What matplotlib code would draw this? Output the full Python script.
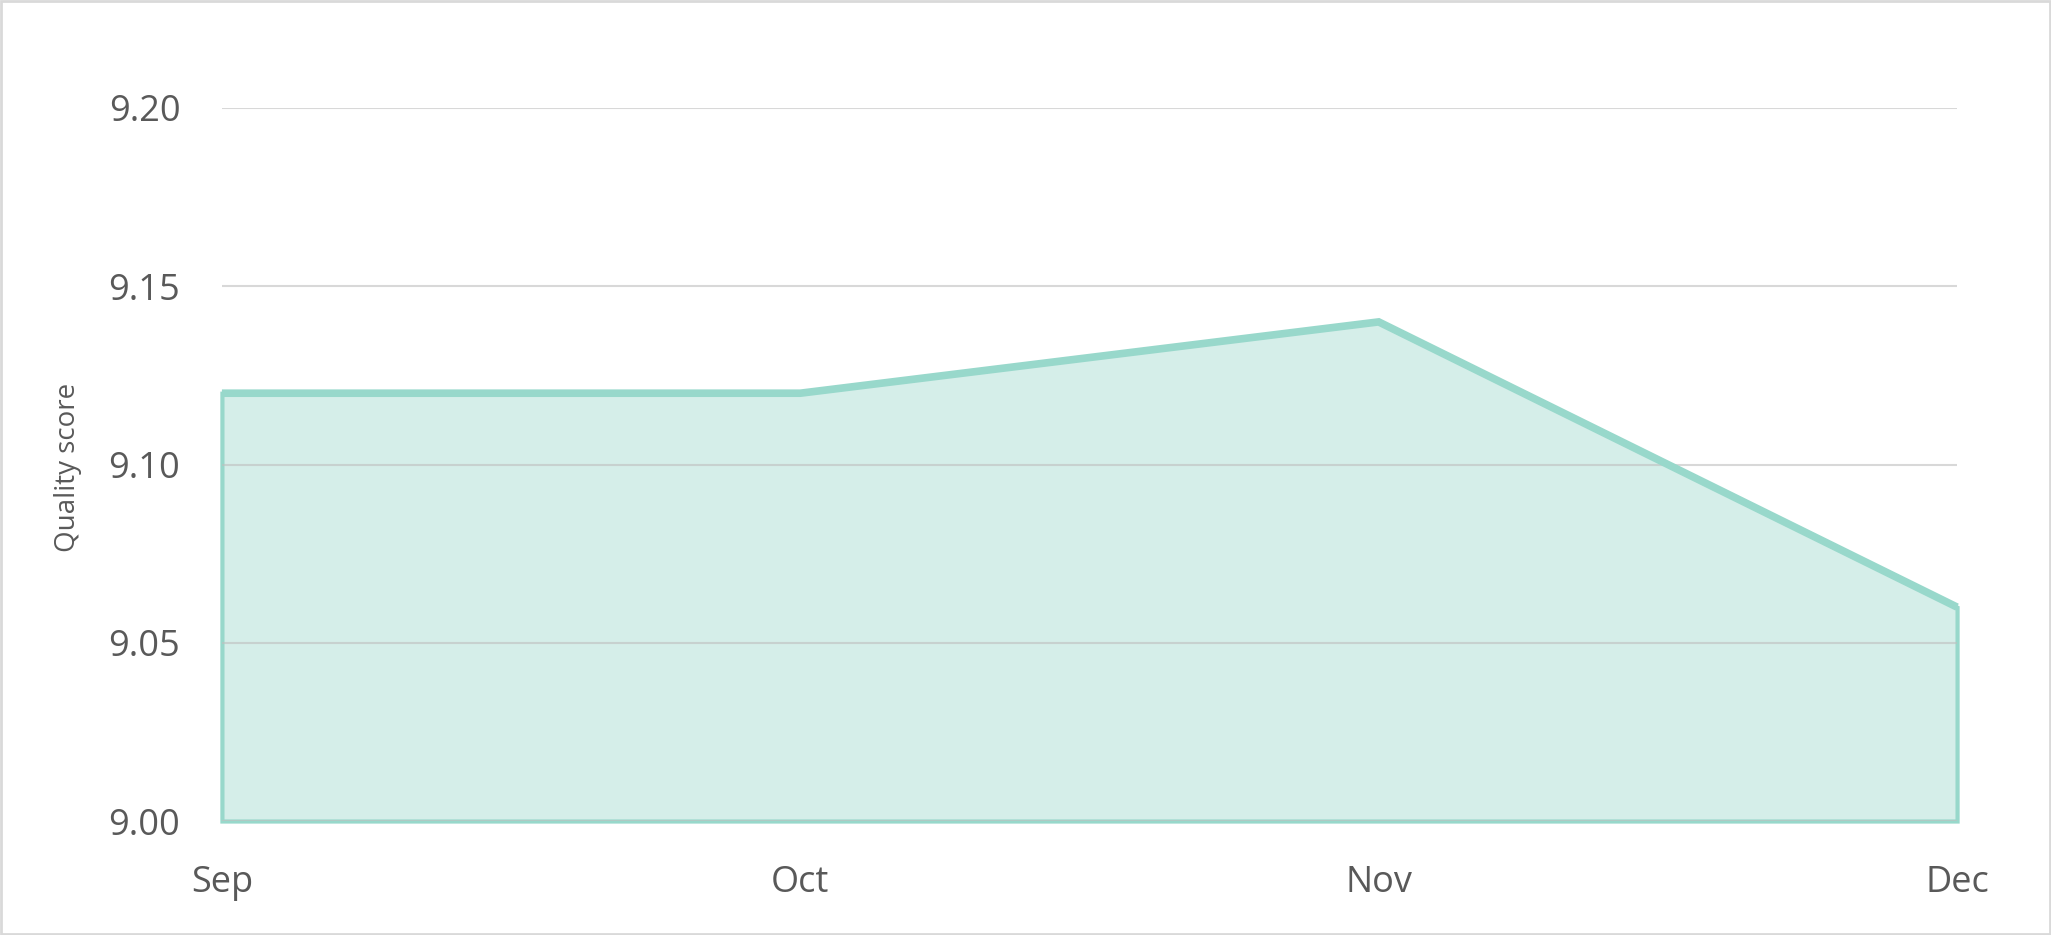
import matplotlib

matplotlib.use("Agg")
import matplotlib.pyplot as plt
from matplotlib.patches import Rectangle

months = ["Sep", "Oct", "Nov", "Dec"]
quality = [9.12, 9.12, 9.14, 9.06]
y_ticks = [9.00, 9.05, 9.10, 9.15, 9.20]

plt.rcParams["font.family"] = ["Open Sans", "DejaVu Sans"]

text_grey = "#595959"
line_teal = "#98d8cb"
fill_teal = "#d5eee9"

fig = plt.figure(figsize=(20.51, 9.35), dpi=100)
ax = fig.add_axes([0.1082, 0.1219, 0.8460, 0.7626])

xs = list(range(len(months)))
area = ax.fill_between(xs, y_ticks[0], quality, facecolor=fill_teal,
                       edgecolor=line_teal, linewidth=3, zorder=1)
area.set_clip_on(False)
area.set_joinstyle("miter")
ax.plot(xs, quality, color=line_teal, linewidth=5.5, zorder=3,
        solid_joinstyle="miter", solid_capstyle="butt", clip_on=False)

ax.set_xlim(xs[0], xs[-1])
ax.set_ylim(y_ticks[0], y_ticks[-1])
ax.set_xticks(xs)
ax.set_xticklabels(months)
ax.set_yticks(y_ticks)
ax.set_yticklabels([f"{v:.2f}" for v in y_ticks])
ax.margins(0)

ax.set_axisbelow("line")
ax.grid(axis="y", color="#bfbfbf", alpha=0.6, linewidth=1.5)
ax.grid(axis="x", visible=False)

for side in ["top", "left", "right"]:
    ax.spines[side].set_visible(False)
ax.spines["bottom"].set_color("#d9d9d9")
ax.spines["bottom"].set_linewidth(2)
ax.spines["bottom"].set_zorder(0.5)

ax.tick_params(axis="both", length=0, labelsize=26, labelcolor=text_grey)
ax.tick_params(axis="y", pad=30)
ax.tick_params(axis="x", pad=32)

ax.set_ylabel("Quality score", fontsize=20, color=text_grey)
ax.yaxis.set_label_coords(-0.0807, 0.4965)

# light border round the whole picture
fig.patches.append(Rectangle((0.0005, 0.001), 0.999, 0.998, transform=fig.transFigure,
                             fill=False, edgecolor="#d9d9d9", linewidth=2))

fig.savefig("out.png", dpi=100, facecolor="white")
